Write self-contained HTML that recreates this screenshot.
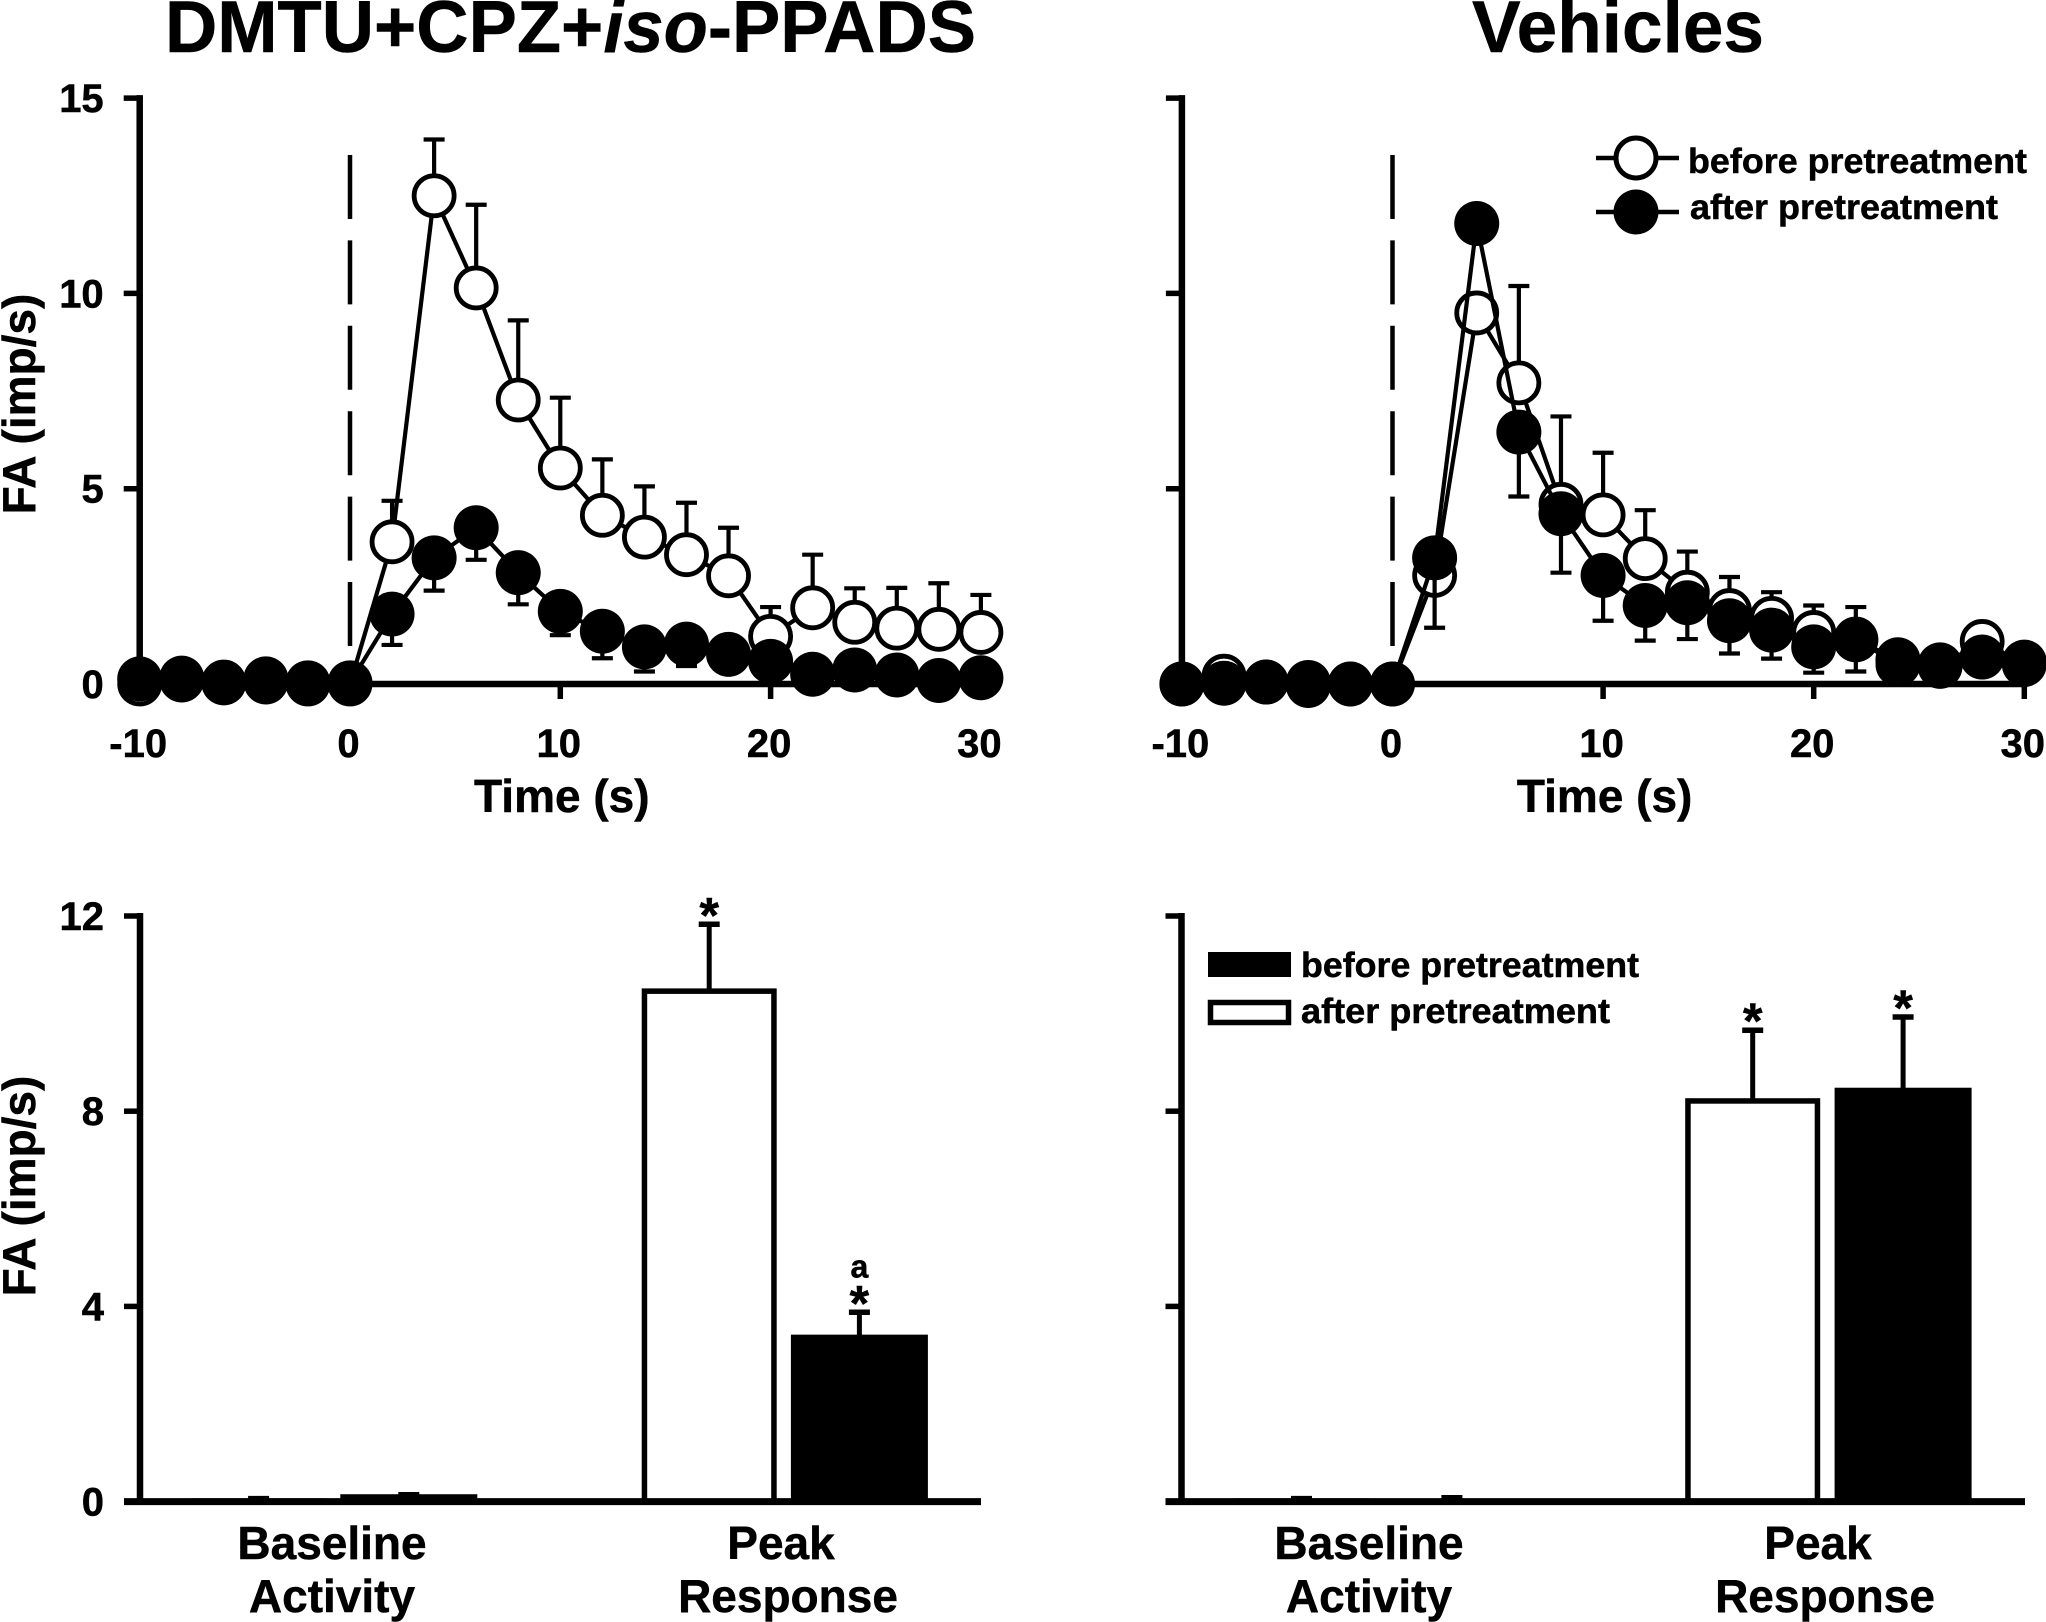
<!DOCTYPE html>
<html lang="en">
<head>
<meta charset="utf-8">
<title>FA responses: DMTU+CPZ+iso-PPADS vs Vehicles</title>
<style>
html,body{margin:0;padding:0;background:#fff;}
svg{display:block;position:absolute;left:0;top:0;}
text{font-family:"Liberation Sans",Arial,sans-serif;font-weight:bold;fill:#000;stroke:#000;stroke-width:0.5px;}
</style>
</head>
<body>
<svg id="figure" xmlns="http://www.w3.org/2000/svg" width="2046" height="1622" viewBox="0 0 2046 1622">
  <rect x="0" y="0" width="2046" height="1622" fill="#fff"/>
  <text x="165" y="52" font-size="73" textLength="811" lengthAdjust="spacingAndGlyphs">DMTU+CPZ+<tspan font-style="italic">iso</tspan>-PPADS</text>
  <text x="1472" y="52" font-size="73" textLength="292" lengthAdjust="spacingAndGlyphs">Vehicles</text>
  <g id="plots"></g>
  <g id="top-legend">
    <line x1="1596" x2="1679" y1="158" y2="158" stroke="#000" stroke-width="4.5"/>
    <circle cx="1636" cy="158" r="20" fill="#fff" stroke="#000" stroke-width="5"/>
    <text x="1688" y="173" font-size="35" textLength="339" lengthAdjust="spacingAndGlyphs">before pretreatment</text>
    <line x1="1596" x2="1679" y1="212" y2="212" stroke="#000" stroke-width="4.5"/>
    <circle cx="1636" cy="212" r="22.5" fill="#000"/>
    <text x="1690" y="219" font-size="35" textLength="308" lengthAdjust="spacingAndGlyphs">after pretreatment</text>
  </g>
  <g id="bottom-legend">
    <rect x="1208" y="952" width="83" height="25" fill="#000"/>
    <text x="1301" y="977" font-size="35" textLength="338" lengthAdjust="spacingAndGlyphs">before pretreatment</text>
    <rect x="1210.5" y="1002.5" width="78" height="20" fill="#fff" stroke="#000" stroke-width="5.5"/>
    <text x="1301" y="1023" font-size="35" textLength="309" lengthAdjust="spacingAndGlyphs">after pretreatment</text>
  </g>
</svg>
<script>
// ---------- shared axis values ----------
const timeSeconds = [-10,-8,-6,-4,-2,0,2,4,6,8,10,12,14,16,18,20,22,24,26,28,30];
const timeTicks = [-10,0,10,20,30];
const lineYTicks = [0,5,10,15];
const barYTicks = [0,4,8,12];
const stimulusTime = 0;

// ---------- top-left: DMTU+CPZ+iso-PPADS ----------
const leftOpenMean = [0,0.1,0.05,0.05,0,0,3.64,12.5,10.14,7.27,5.53,4.32,3.76,3.31,2.77,1.22,1.95,1.58,1.43,1.40,1.32];
const leftOpenErrUpper = [null,null,null,null,null,null,4.69,13.94,12.27,9.31,7.33,5.75,5.06,4.64,4.0,1.97,3.31,2.45,2.46,2.58,2.28];
const leftFilledMean = [0.13,0.15,0.03,0.13,0.03,0.03,1.79,3.23,4.0,2.85,1.86,1.35,0.95,1.02,0.76,0.58,0.25,0.36,0.23,0.09,0.16];
const leftFilledErrLower = [null,null,null,null,null,null,1.0,2.39,3.18,2.04,1.25,0.66,0.32,0.46,null,null,null,null,null,null,null];

// ---------- top-right: Vehicles ----------
const rightOpenMean = [0,0.2,0.05,-0.04,0,0,2.78,9.5,7.71,4.6,4.33,3.21,2.35,1.88,1.68,1.32,1.15,0.5,0.45,1.09,0.5];
const rightOpenErrUpper = [null,null,null,null,null,null,null,9.86,10.19,6.85,5.92,4.45,3.39,2.74,2.35,2.01,1.97,null,null,null,null];
const rightFilledMean = [0,0.02,0.05,0.04,0,0,3.23,11.79,6.45,4.36,2.78,2.01,2.08,1.62,1.38,0.95,1.13,0.62,0.49,0.69,0.56];
const rightFilledErrLower = [null,null,null,null,null,null,1.44,null,4.8,2.85,1.62,1.11,1.15,0.78,0.65,0.29,0.32,null,null,null,null];

// ---------- bottom: bars (order: baseline open, baseline filled, peak open, peak filled) ----------
const barSlots = [0,1,3,4];
const barFilled = [false,true,false,true];
const barNames = ['baseline-open','baseline-filled','peak-open','peak-filled'];
const leftBarValues = [0.01,0.10,10.46,3.37];
const leftBarErrUpper = [0.06,0.14,11.83,3.88];
const leftBarMarks = [[],[],['*'],['*','a']];
const rightBarValues = [0.01,0.01,8.21,8.43];
const rightBarErrUpper = [0.06,0.08,9.66,9.93];
const rightBarMarks = [[],[],['*'],['*']];

const NS = 'http://www.w3.org/2000/svg';
const plots = document.getElementById('plots');

function mk(parent, tag, attrs, text){
  const el = document.createElementNS(NS, tag);
  for (const k in attrs) el.setAttribute(k, attrs[k]);
  if (text !== undefined) el.textContent = text;
  parent.appendChild(el);
  return el;
}

function drawLinePanel(name, xPos, yAxisLabelled, openMean, openErr, filledMean, filledErr, showYTitle){
  const xScale = t => xPos.zero + xPos.perSecond * t;
  const yScale = v => 684 - 39.06 * v;
  const g = mk(plots, 'g', {});
  
  

  // axes
  const yAxis = mk(g, 'line', {x1:xScale(-10), x2:xScale(-10), y1:yScale(15)-3, y2:yScale(0), stroke:'#000','stroke-width':6.5});
  
  
  const xAxis = mk(g, 'line', {x1:xScale(-10), x2:xScale(30)+3, y1:yScale(0), y2:yScale(0), stroke:'#000','stroke-width':6.5});
  
  

  lineYTicks.forEach(v => {
    const tick = mk(g, 'line', {x1:xScale(-10)-16, x2:xScale(-10), y1:yScale(v), y2:yScale(v), stroke:'#000','stroke-width':5.5});
    
    
    if (yAxisLabelled){
      const lab = mk(g, 'text', {x:xScale(-10)-36, y:yScale(v)+14, 'font-size':40, 'text-anchor':'end'}, String(v));
      
      
    }
  });
  timeTicks.forEach(t => {
    const tick = mk(g, 'line', {x1:xScale(t), x2:xScale(t), y1:yScale(0), y2:yScale(0)+15, stroke:'#000','stroke-width':5.5});
    
    
    const lab = mk(g, 'text', {x:xScale(t)-1.5, y:757, 'font-size':40, 'text-anchor':'middle'}, String(t));
    
    
  });
  const xTitle = mk(g, 'text', {x:xScale(10)+1.5, y:812, 'font-size':46, 'text-anchor':'middle'}, 'Time (s)');
  
  
  if (showYTitle){
    const yTitle = mk(g, 'text', {x:0, y:0, 'font-size':46, 'text-anchor':'middle', transform:'translate(35 404) rotate(-90)'}, 'FA (imp/s)');
    
    
  }

  // stimulus marker
  const dash = mk(g, 'line', {x1:xScale(stimulusTime), x2:xScale(stimulusTime), y1:155, y2:648, stroke:'#000','stroke-width':4.5,'stroke-dasharray':'64 21.4'});
  
  

  // series
  function series(sName, mean, err, filled){
    const s = mk(g, 'g', {});
    
    
    mean.forEach((v, i) => {
      if (err[i] === null) return;
      const stem = mk(s, 'line', {x1:xScale(timeSeconds[i]), x2:xScale(timeSeconds[i]), y1:yScale(v), y2:yScale(err[i]), stroke:'#000','stroke-width':4.2});
      
      
      const cap = mk(s, 'line', {x1:xScale(timeSeconds[i])-10.5, x2:xScale(timeSeconds[i])+10.5, y1:yScale(err[i]), y2:yScale(err[i]), stroke:'#000','stroke-width':4.2});
      
      
    });
    const pts = mean.map((v, i) => xScale(timeSeconds[i]) + ',' + yScale(v)).join(' ');
    const path = mk(s, 'polyline', {points:pts, fill:'none', stroke:'#000','stroke-width':4.2});
    
    
    mean.forEach((v, i) => {
      const c = mk(s, 'circle', filled
        ? {cx:xScale(timeSeconds[i]), cy:yScale(v), r:22.5, fill:'#000'}
        : {cx:xScale(timeSeconds[i]), cy:yScale(v), r:20, fill:'#fff', stroke:'#000','stroke-width':4.8});
      
      
    });
  }
  series('open', openMean, openErr, false);
  series('filled', filledMean, filledErr, true);
}

function drawBarPanel(name, layout, values, errs, marks, showYAxisText){
  const yScale = v => 1501.6 - 48.8 * v;
  const xCenter = slot => layout.first + layout.step * slot;
  const g = mk(plots, 'g', {});
  
  

  const barWidth = 135;
  values.forEach((v, i) => {
    const cx = xCenter(barSlots[i]);
    const top = yScale(v);
    const errY = yScale(errs[i]);
    const stem = mk(g, 'line', {x1:cx, x2:cx, y1:top, y2:errY, stroke:'#000','stroke-width':5});
    
    
    const cap = mk(g, 'line', {x1:cx-10.5, x2:cx+10.5, y1:errY, y2:errY, stroke:'#000','stroke-width':5.5});
    
    
    let bar;
    if (barFilled[i]) {
      bar = mk(g, 'rect', {x:cx-barWidth/2-1, y:top-2.5, width:barWidth+2, height:1501.6-top+2.5, fill:'#000'});
    } else {
      bar = mk(g, 'rect', {x:cx-barWidth/2+2.75, y:top, width:barWidth-5.5, height:1501.6-top, fill:'#fff', stroke:'#000','stroke-width':5.5});
    }
    
    
    marks[i].forEach((m) => {
      const isStar = m === '*';
      const lab = mk(g, 'text', {x:cx, y: isStar ? errY + 8 : errY - 35, 'font-size': isStar ? 50 : 32, 'text-anchor':'middle'}, m);
      
      
    });
  });

  const xAxis = mk(g, 'line', {x1:layout.axisX-16, x2:layout.axisEnd, y1:yScale(0), y2:yScale(0), stroke:'#000','stroke-width':7});
  
  
  const yAxis = mk(g, 'line', {x1:layout.axisX, x2:layout.axisX, y1:yScale(12)-3, y2:yScale(0), stroke:'#000','stroke-width':6.5});
  
  
  barYTicks.forEach(v => {
    const tick = mk(g, 'line', {x1:layout.axisX-16, x2:layout.axisX, y1:yScale(v), y2:yScale(v), stroke:'#000','stroke-width':5.5});
    
    
    if (showYAxisText){
      const lab = mk(g, 'text', {x:layout.axisX-36, y:yScale(v)+14, 'font-size':40, 'text-anchor':'end'}, String(v));
      
      
    }
  });
  if (showYAxisText){
    const yTitle = mk(g, 'text', {x:0, y:0, 'font-size':46, 'text-anchor':'middle', transform:'translate(35 1186) rotate(-90)'}, 'FA (imp/s)');
    
    
  }
  const labels = [
    ['Baseline', layout.baselineX, 1559, 'category-baseline'],
    ['Activity', layout.baselineX, 1612, 'category-activity'],
    ['Peak', layout.peakX, 1559, 'category-peak'],
    ['Response', layout.peakX + 7, 1612, 'category-response']
  ];
  labels.forEach(l => {
    const t = mk(g, 'text', {x:l[1], y:l[2], 'font-size':46, 'text-anchor':'middle'}, l[0]);
    
    
  });
}

drawLinePanel('left', {zero:350, perSecond:21.03}, true, leftOpenMean, leftOpenErrUpper, leftFilledMean, leftFilledErrLower, true);
drawLinePanel('right', {zero:1392.5, perSecond:21.06}, false, rightOpenMean, rightOpenErrUpper, rightFilledMean, rightFilledErrLower, false);
drawBarPanel('left', {first:258.6, step:150.2, axisX:140, axisEnd:981, baselineX:332, peakX:781}, leftBarValues, leftBarErrUpper, leftBarMarks, true);
drawBarPanel('right', {first:1301.5, step:150.4, axisX:1181.5, axisEnd:2025, baselineX:1369, peakX:1818}, rightBarValues, rightBarErrUpper, rightBarMarks, false);
</script>
</body>
</html>
